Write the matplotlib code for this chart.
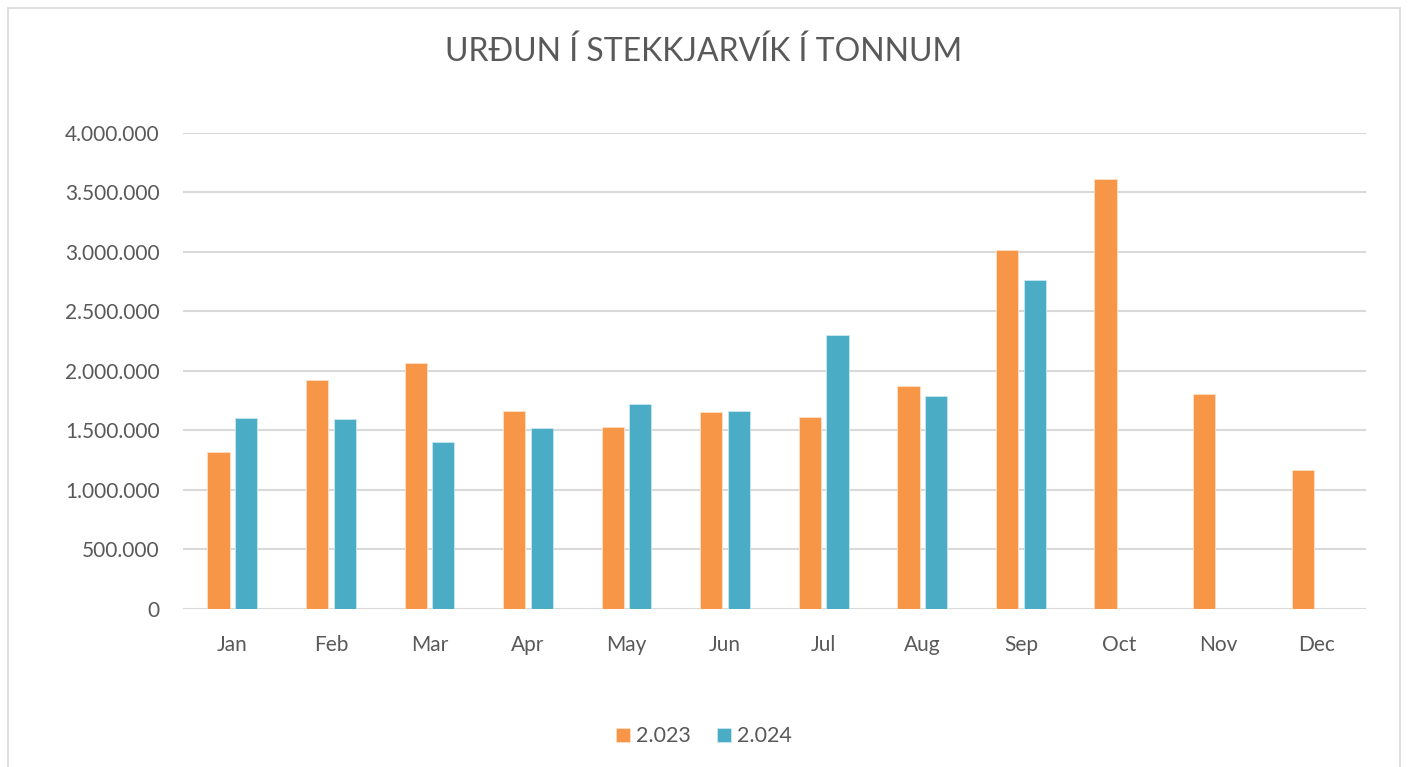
import matplotlib.pyplot as plt
import matplotlib.ticker as mticker
from matplotlib.patches import Rectangle
import numpy as np

plt.rcParams['font.family'] = ['Lato', 'DejaVu Sans']

months = ["Jan", "Feb", "Mar", "Apr", "May", "Jun", "Jul", "Aug", "Sep", "Oct", "Nov", "Dec"]
y2023 = [1319000, 1927000, 2067000, 1661000, 1529000, 1658000, 1613000, 1874000, 3017000, 3611000, 1804000, 1171000]
y2024 = [1602000, 1594000, 1403000, 1518000, 1725000, 1664000, 2300000, 1787000, 2762000]
series_names = ["2.023", "2.024"]

text_col = "#595959"
orange = "#F79646"
blue = "#4BACC6"

fig = plt.figure(figsize=(14.08, 7.67), dpi=100)
ax = fig.add_axes([0.130, 0.206, 0.840, 0.6206])

x = np.arange(len(months))
w = 0.225
off = 0.14
ax.bar(x[:len(y2023)] - off, y2023, width=w, color=orange, edgecolor="#fde0c8", linewidth=0.6, label=series_names[0], zorder=3)
ax.bar(x[:len(y2024)] + off, y2024, width=w, color=blue, edgecolor="#c9e8f0", linewidth=0.6, label=series_names[1], zorder=3)

ax.set_xlim(-0.5, len(months) - 0.5)
ax.set_ylim(0, 4000000)
ax.set_yticks(np.arange(0, 4000001, 500000))
ax.yaxis.set_major_formatter(mticker.FuncFormatter(lambda v, p: f"{int(v):,}".replace(",", ".")))
ax.set_xticks(x)
ax.set_xticklabels(months)
ax.grid(axis="y", color="#d9d9d9", linewidth=1.5, zorder=0)
ax.set_axisbelow(True)
for s in ax.spines.values():
    s.set_visible(False)
ax.tick_params(axis="both", length=0, labelsize=15, colors=text_col)
ax.tick_params(axis="x", pad=19)
ax.tick_params(axis="y", pad=17)

fig.text(0.5, 0.932, "URĐUN Í STEKKJARVÍK Í TONNUM", ha="center", va="center", fontsize=23, color=text_col)

leg = fig.legend(loc="center", bbox_to_anchor=(0.5, 0.04), ncol=2, frameon=False, fontsize=15.5,
                 handlelength=0.65, handleheight=0.65, handletextpad=0.3, columnspacing=1.2)
for t in leg.get_texts():
    t.set_color(text_col)

fig.patches.append(Rectangle((8 / 1408, -0.01), 1392 / 1408, 1 - 8 / 767 + 0.01, transform=fig.transFigure,
                             fill=False, edgecolor="#d9d9d9", linewidth=1.2))

fig.savefig("out.png", dpi=100)
